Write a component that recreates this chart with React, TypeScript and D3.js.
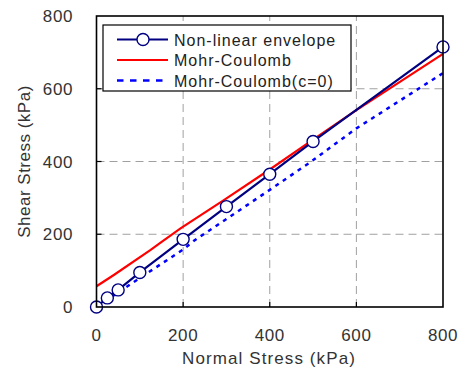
import React from "react";
import * as d3 from "d3";

const ticks = [0, 200, 400, 600, 800];
const nlX = [0, 25, 50, 100, 200, 300, 400, 500, 800];
const nlY = [0, 25, 47, 95, 186, 276, 365, 455, 715];
const mcX = [0, 40, 125, 148, 194, 294, 400, 500, 600, 800];
const mcY = [57, 88, 157, 177, 216, 294, 378, 460, 541, 696];
const mc0X = [0, 80, 200, 225, 400, 490, 600, 800];
const mc0Y = [0, 64, 158, 182, 322, 395, 491, 643];
const legendLabels = ["Non-linear envelope", "Mohr-Coulomb", "Mohr-Coulomb(c=0)"];

export default function App() {
  const x = d3.scaleLinear().domain([0, 800]).range([96.5, 443]);
  const y = d3.scaleLinear().domain([0, 800]).range([307, 16]);
  const line = d3.line<[number, number]>().x((d) => x(d[0])).y((d) => y(d[1]));
  const nl = nlX.map((v, i) => [v, nlY[i]] as [number, number]);
  const mc = mcX.map((v, i) => [v, mcY[i]] as [number, number]);
  const mc0 = mc0X.map((v, i) => [v, mc0Y[i]] as [number, number]);
  const font = "'Liberation Sans', Arial, sans-serif";
  const inner = ticks.slice(1, -1);
  const lx = 103, ly = 25;
  const rows = [39.5, 60, 80.5];
  return (
    <svg width={460} height={370} style={{ position: "absolute", left: 0, top: 0, background: "#fff" }}>
      <rect x={0} y={0} width={460} height={370} fill="#fff" />
      {inner.map((t) => (
        <g key={"g" + t}>
          <line x1={x(t)} x2={x(t)} y1={y(0)} y2={y(800)} stroke="#a0a0a0" strokeWidth={1} strokeDasharray="8,5" />
          <line x1={x(0)} x2={x(800)} y1={y(t)} y2={y(t)} stroke="#a0a0a0" strokeWidth={1} strokeDasharray="8,5" />
          <line x1={x(t)} x2={x(t)} y1={y(0)} y2={y(0) - 5} stroke="#000" strokeWidth={1.2} />
          <line x1={x(0)} x2={x(0) + 5} y1={y(t)} y2={y(t)} stroke="#000" strokeWidth={1.2} />
        </g>
      ))}
      <path d={line(mc0) || ""} fill="none" stroke="#0000ff" strokeWidth={2.5} strokeDasharray="4,5" />
      <path d={line(mc) || ""} fill="none" stroke="#ff0000" strokeWidth={2.2} />
      <path d={line(nl) || ""} fill="none" stroke="#000080" strokeWidth={2.2} />
      {nl.map((d, i) => (
        <circle key={i} cx={x(d[0])} cy={y(d[1])} r={6} fill="#fff" stroke="#000080" strokeWidth={1.4} />
      ))}
      <rect x={x(0)} y={y(800)} width={x(800) - x(0)} height={y(0) - y(800)} fill="none" stroke="#000" strokeWidth={1.6} />
      {ticks.map((t) => (
        <text key={"xt" + t} x={x(t)} y={341} textAnchor="middle" fontFamily={font} fontSize={17} letterSpacing={0.6} fill="#333">{t}</text>
      ))}
      {ticks.map((t) => (
        <text key={"yt" + t} x={73} y={y(t) + 6} textAnchor="end" fontFamily={font} fontSize={17} letterSpacing={0.6} fill="#333">{t}</text>
      ))}
      <text x={269} y={364} textAnchor="middle" fontFamily={font} fontSize={17} letterSpacing={1.1} fill="#333">Normal Stress (kPa)</text>
      <text transform="translate(30,161.5) rotate(-90)" textAnchor="middle" fontFamily={font} fontSize={17} letterSpacing={0.5} fill="#333">Shear Stress (kPa)</text>
      <rect x={lx} y={ly} width={248} height={66} fill="#fff" stroke="#000" strokeWidth={1.2} />
      <line x1={117} x2={168} y1={rows[0]} y2={rows[0]} stroke="#000080" strokeWidth={2.2} />
      <circle cx={143} cy={rows[0]} r={6} fill="#fff" stroke="#000080" strokeWidth={1.4} />
      <line x1={117} x2={168} y1={rows[1]} y2={rows[1]} stroke="#ff0000" strokeWidth={2.2} />
      <line x1={117} x2={168} y1={rows[2]} y2={rows[2]} stroke="#0000ff" strokeWidth={2.5} strokeDasharray="6.5,6.5" />
      {legendLabels.map((l, i) => (
        <text key={l} x={174} y={rows[i] + 6} fontFamily={font} fontSize={16} letterSpacing={1} fill="#222">{l}</text>
      ))}
    </svg>
  );
}
